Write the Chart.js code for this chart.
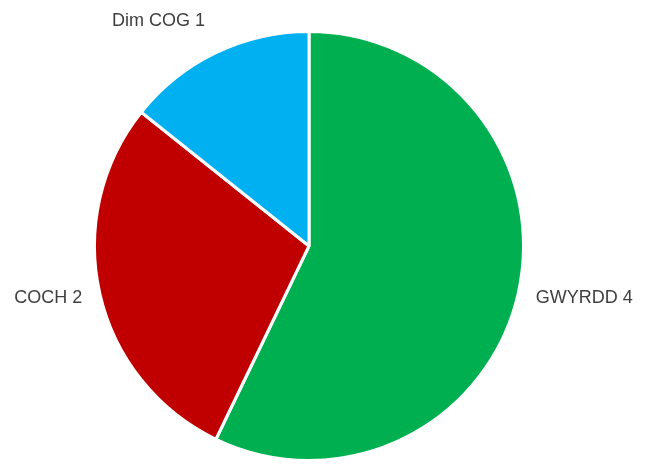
<!DOCTYPE html>
<html>
<head>
<meta charset="utf-8">
<script src="https://cdn.jsdelivr.net/npm/chart.js@4"></script>
<style>
  html, body { margin: 0; padding: 0; background: #fff; }
  #wrap { width: 648px; height: 465px; }
</style>
</head>
<body>
<div id="wrap"><canvas id="pie"></canvas></div>
<script>
// data for the pie
const labels = ['GWYRDD', 'COCH', 'Dim COG'];
const values = [4, 2, 1];
const colours = ['#00B050', '#C00000', '#00B0F0'];

// draws "NAME value" outside each slice, like the Excel outside-end labels
const outsideLabels = {
    id: 'outsideLabels',
    afterDatasetsDraw(chart) {
        const ctx = chart.ctx;
        const meta = chart.getDatasetMeta(0);
        ctx.save();
        ctx.font = '18px "Liberation Sans", Arial, sans-serif';
        ctx.fillStyle = '#404040';
        meta.data.forEach((arc, i) => {
            const mid = (arc.startAngle + arc.endAngle) / 2;
            const dx = Math.cos(mid), dy = Math.sin(mid);
            const top = dy < -0.7;
            const r = arc.outerRadius + (top ? 25 : 18);
            const x = arc.x + dx * r;
            const y = arc.y + dy * r;
            ctx.textAlign = dx < 0 ? 'right' : 'left';
            ctx.textBaseline = top ? 'bottom' : 'middle';
            ctx.fillText(labels[i] + ' ' + values[i], x, y);
        });
        ctx.restore();
    }
};

const ctx = document.getElementById('pie').getContext('2d');
new Chart(ctx, {
    type: 'pie',
    data: {
        labels: labels,
        datasets: [{
            data: values,
            backgroundColor: colours,
            borderColor: '#ffffff',
            borderWidth: 3
        }]
    },
    options: {
        responsive: true,
        maintainAspectRatio: false,
        animation: false,
        layout: { padding: { top: 30, bottom: 3, left: 0, right: 30 } },
        plugins: {
            legend: { display: false },
            tooltip: { enabled: false }
        }
    },
    plugins: [outsideLabels]
});
</script>
</body>
</html>
